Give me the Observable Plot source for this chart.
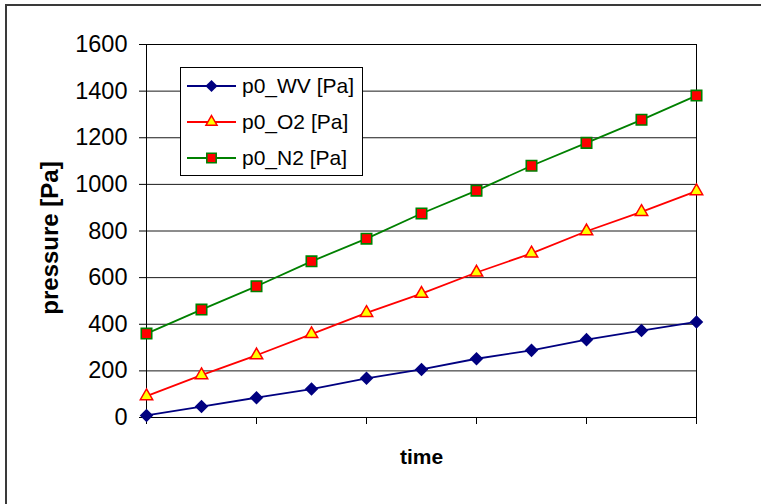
<!DOCTYPE html>
<html><head><meta charset="utf-8">
<script src="https://cdn.jsdelivr.net/npm/d3@7"></script>
<script src="https://cdn.jsdelivr.net/npm/@observablehq/plot@0.6"></script>
<style>
html,body{margin:0;padding:0;background:#fff;overflow:hidden;}
#wrap{position:relative;width:761px;height:504px;overflow:hidden;background:#fff;}
#border{position:absolute;left:5px;top:4px;width:900px;height:700px;border-left:2px solid #3a3a3a;border-top:2px solid #3a3a3a;}
#chart{position:absolute;left:0;top:0;width:761px;height:504px;}
</style></head><body>
<div id="wrap"><div id="border"></div><div id="chart"></div></div>
<script>
// ---- data ----
const times = [1, 2, 3, 4, 5, 6, 7, 8, 9, 10, 11];
const wv = [9, 47, 85, 122, 168, 206, 252, 288, 334, 373, 410];
const o2 = [92, 182, 267, 358, 449, 531, 622, 704, 799, 882, 971];
const n2 = [360, 463, 563, 670, 767, 875, 973, 1080, 1178, 1277, 1381];
const seriesNames = ["p0_WV [Pa]", "p0_O2 [Pa]", "p0_N2 [Pa]"];
const yTicks = [0, 200, 400, 600, 800, 1000, 1200, 1400, 1600];
const xTicks = [1, 3, 5, 7, 9, 11];
const xLabel = "time";
const yLabel = "pressure [Pa]";

// ---- styles ----
const seriesValues = [wv, o2, n2];
const styles = [
  {line: "#000080", symbol: "diamond2", fill: "#000080", stroke: "none", r: 6.1, sw: 0},
  {line: "#ff0000", symbol: "triangle", fill: "#ffff00", stroke: "#ff0000", r: 4.6, sw: 1.5},
  {line: "#008000", symbol: "square", fill: "#ff0000", stroke: "#008000", r: 5.9, sw: 1.6}
];
const d3sym = {diamond2: d3.symbolDiamond2, triangle: d3.symbolTriangle, square: d3.symbolSquare};

const rows = seriesValues.map(vals => times.map((t, i) => ({t, v: vals[i]})));
const font = "'Liberation Sans', Arial, Helvetica, sans-serif";

const marks = [
  Plot.gridY(yTicks, {stroke: "#1a1a1a", strokeOpacity: 1}),
  Plot.frame({stroke: "#000"}),
  Plot.axisY(yTicks, {tickSize: 7, tickPadding: 12, tickFormat: d => String(d), label: null}),
  Plot.axisX(xTicks, {tickSize: 7, tickFormat: () => "", label: null}),
];
rows.forEach((data, k) => {
  const s = styles[k];
  marks.push(Plot.line(data, {x: "t", y: "v", stroke: s.line, strokeWidth: 1.8}));
});
rows.forEach((data, k) => {
  const s = styles[k];
  marks.push(Plot.dot(data, {x: "t", y: "v", symbol: () => s.symbol, r: s.r, fill: s.fill,
    stroke: s.stroke, strokeWidth: s.sw}));
});
marks.push(Plot.text([yLabel], {frameAnchor: "left", text: d => d, rotate: -90, dx: -96, dy: 7,
  textAnchor: "middle", lineAnchor: "middle", fontWeight: "bold", fontSize: 24}));
marks.push(Plot.text([xLabel], {frameAnchor: "bottom", text: d => d, dy: 40,
  textAnchor: "middle", lineAnchor: "middle", fontWeight: "bold", fontSize: 21}));

const chart = Plot.plot({
  width: 761, height: 504,
  marginLeft: 146, marginRight: 65, marginTop: 44, marginBottom: 87,
  x: {domain: [1, 11]},
  y: {domain: [0, 1600]},
  symbol: {type: "identity"},
  style: {fontFamily: font, fontSize: "23.5px", color: "#000", background: "transparent", overflow: "visible"},
  marks
});

// legend
const svg = d3.select(chart);
const lg = svg.append("g");
lg.append("rect").attr("x", 180.5).attr("y", 67.5).attr("width", 182).attr("height", 108)
  .attr("fill", "#fff").attr("stroke", "#000").attr("stroke-width", 1);
seriesNames.forEach((name, i) => {
  const s = styles[i];
  const y = 86 + 36 * i;
  lg.append("line").attr("x1", 187).attr("x2", 236).attr("y1", y).attr("y2", y)
    .attr("stroke", s.line).attr("stroke-width", 1.8);
  lg.append("path").attr("d", d3.symbol(d3sym[s.symbol], Math.PI * s.r * s.r * 0.8)())
    .attr("transform", `translate(211.5,${y})`)
    .attr("fill", s.fill).attr("stroke", s.stroke).attr("stroke-width", s.sw);
  lg.append("text").attr("x", 242).attr("y", y).attr("dy", "0.35em")
    .attr("text-anchor", "start")
    .attr("font-size", 21).attr("font-family", font).attr("fill", "#000").text(name);
});

document.getElementById("chart").appendChild(chart);
</script>
</body></html>
